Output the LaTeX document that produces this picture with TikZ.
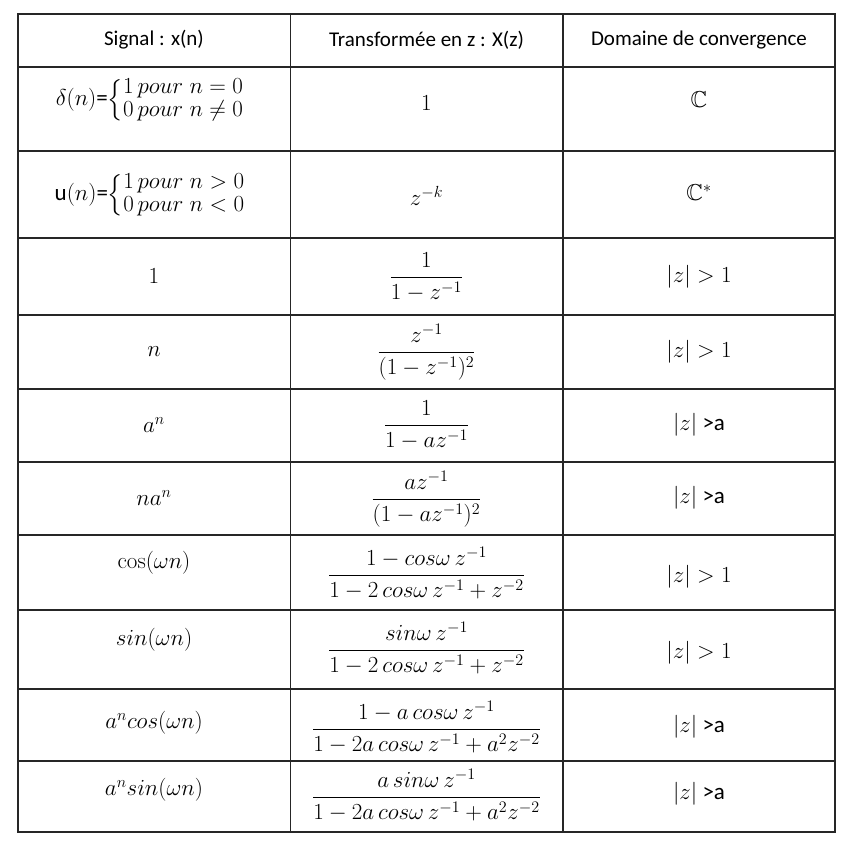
\RequirePackage{fix-cm}
\documentclass[tikz,border=0pt]{standalone}
\usepackage{amsmath,amssymb}
\usepackage[no-math]{fontspec}
\setmainfont{Carlito}
\begin{document}
\begin{tikzpicture}[x=1pt,y=-1pt,
  cell/.style={inner sep=0pt, font=\fontsize{21}{25}\selectfont},
  mcell/.style={inner sep=0pt, font=\fontsize{23}{27}\selectfont},
  grid/.style={line width=1.3pt, black!85}]
\useasboundingbox (0,0) rectangle (852,846);
% table lines
\draw[grid] (18,14) rectangle (835,832);
\foreach \xx in {290.5,563} \draw[grid] (\xx,14) -- (\xx,832);
\foreach \yy in {67,151,238,315,389,462,535,610,689,761} \draw[grid] (18,\yy) -- (835,\yy);
% header
\node[cell] (h1) at (154,40) {Signal : x(n)};
\node[cell] (h2) at (426.5,40) {Transformée en z : X(z)};
\node[cell] (h3) at (699,40) {Domaine de convergence};
% column 1
\node[mcell] (a1) at (150,100) {$\delta(n)$=$\left\{\renewcommand\arraystretch{0.85}\begin{array}{@{}l@{}}1\,pour\;n=0\\0\,pour\;n\neq0\end{array}\right.$};
\node[mcell] (a2) at (150,195) {u$(n)$=$\left\{\renewcommand\arraystretch{0.85}\begin{array}{@{}l@{}}1\,pour\;n>0\\0\,pour\;n<0\end{array}\right.$};
\node[mcell] (a3) at (154,276) {$1$};
\node[mcell] (a4) at (154,352) {$n$};
\node[mcell] (a5) at (154,425) {$a^n$};
\node[mcell] (a6) at (154,498) {$na^n$};
\node[mcell] (a7) at (154,563) {$\cos(\omega n)$};
\node[mcell] (a8) at (154,640) {$sin(\omega n)$};
\node[mcell] (a9) at (154,723) {$a^n cos(\omega n)$};
\node[mcell] (a10) at (154,790) {$a^n sin(\omega n)$};
% column 2
\node[mcell] (b1) at (426.5,103) {$1$};
\node[mcell] (b2) at (426.5,196) {$z^{-k}$};
\node[mcell] (b3) at (426.5,277) {$\dfrac{1}{1-z^{-1}}$};
\node[mcell] (b4) at (426.5,352) {$\dfrac{z^{-1}}{(1-z^{-1})^2}$};
\node[mcell] (b5) at (426.5,425) {$\dfrac{1}{1-az^{-1}}$};
\node[mcell] (b6) at (426.5,499) {$\dfrac{az^{-1}}{(1-az^{-1})^2}$};
\node[mcell] (b7) at (426.5,573) {$\dfrac{1-cos\omega\, z^{-1}}{1-2\,cos\omega\, z^{-1}+z^{-2}}$};
\node[mcell] (b8) at (426.5,648) {$\dfrac{sin\omega\, z^{-1}}{1-2\,cos\omega\, z^{-1}+z^{-2}}$};
\node[mcell] (b9) at (426.5,727) {$\dfrac{1-a\,cos\omega\, z^{-1}}{1-2a\,cos\omega\, z^{-1}+a^2z^{-2}}$};
\node[mcell] (b10) at (426.5,795) {$\dfrac{a\,sin\omega\, z^{-1}}{1-2a\,cos\omega\, z^{-1}+a^2z^{-2}}$};
% column 3
\node[mcell] (c1) at (699,100) {$\mathbb{C}$};
\node[mcell] (c2) at (699,193) {$\mathbb{C}^{*}$};
\node[mcell] (c3) at (699,277) {$|z|>1$};
\node[mcell] (c4) at (699,352) {$|z|>1$};
\node[mcell] (c5) at (699,425) {$|z|$ >a};
\node[mcell] (c6) at (699,498) {$|z|$ >a};
\node[mcell] (c7) at (699,577) {$|z|>1$};
\node[mcell] (c8) at (699,653) {$|z|>1$};
\node[mcell] (c9) at (699,727) {$|z|$ >a};
\node[mcell] (c10) at (699,794) {$|z|$ >a};
\end{tikzpicture}
\end{document}
